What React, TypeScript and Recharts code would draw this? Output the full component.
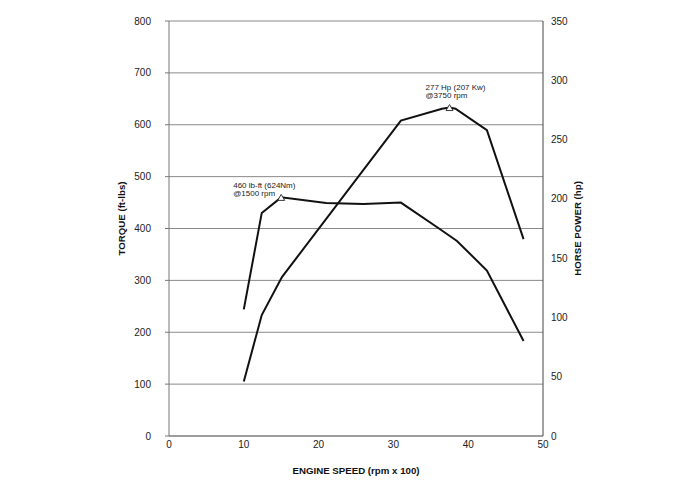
import { LineChart, Line, XAxis, YAxis, CartesianGrid, ReferenceDot, Label } from 'recharts'

const torqueRpm = [10, 12.4, 15, 21, 26, 31, 36, 38.5, 42.5, 47.4]
const torqueVals = [244, 430, 460, 449, 447, 450, 401, 376, 319, 183]
const hpRpm = [10, 12.4, 15.1, 31, 36.5, 37.5, 38.3, 42.5, 47.4]
const hpVals = [46, 102, 134, 266, 276, 277, 276, 258, 166]

const xTicks = [0, 10, 20, 30, 40, 50]
const torqueTicks = [0, 100, 200, 300, 400, 500, 600, 700, 800]
const hpTicks = [0, 50, 100, 150, 200, 250, 300, 350]

const torquePeak = { rpm: 15, value: 460, lines: ['460 lb-ft (624Nm)', '@1500 rpm'] }
const hpPeak = { rpm: 37.5, value: 277, lines: ['277 Hp (207 Kw)', '@3750 rpm'] }

const torqueData = torqueRpm.map((rpm, i) => ({ rpm, torque: torqueVals[i] }))
const hpData = hpRpm.map((rpm, i) => ({ rpm, hp: hpVals[i] }))

const FONT = '"Liberation Sans", Arial, sans-serif'
const tick = { fontSize: 10, fill: '#222', fontFamily: FONT }

function peakShape(lines: string[], dx: number, dy: number) {
  return (p: any) => {
    const { cx, cy } = p
    return (
      <g>
        <polygon
          points={`${cx - 3.5},${cy + 3} ${cx + 3.5},${cy + 3} ${cx},${cy - 3}`}
          fill="#fff" stroke="#222" strokeWidth={0.9}
        />
        {lines.map((t, i) => (
          <text key={i} x={cx + dx} y={cy + dy + i * 8.5} fontSize={8} fill="#222" fontFamily={FONT}>{t}</text>
        ))}
      </g>
    )
  }
}

const axisTitle = (text: string, dx: number, dy: number) => (p: any) => {
  const vb = p.viewBox
  const x = vb.x + dx
  const y = vb.y + vb.height / 2 + dy
  return (
    <text x={x} y={y} transform={`rotate(-90 ${x} ${y})`} textAnchor="middle" dominantBaseline="central"
      fontSize={9.7} fontWeight={700} fill="#111" fontFamily={FONT}>{text}</text>
  )
}

export default function App() {
  return (
    <div style={{ width: 700, height: 492, fontFamily: FONT }}>
      <LineChart width={700} height={492} margin={{ top: 13, right: 105, left: 101, bottom: 34 }}>
        <CartesianGrid yAxisId="torque" vertical={false} stroke="#8a8a8a" strokeWidth={1} />
        <XAxis
          dataKey="rpm" type="number" domain={[0, 50]} ticks={xTicks} height={30}
          tick={tick} tickLine={false} tickSize={0} tickMargin={5}
          axisLine={{ stroke: '#777' }} allowDuplicatedCategory={false}
        >
          <Label value="ENGINE SPEED (rpm x 100)" position="bottom" offset={1}
            style={{ fontSize: 9.7, fontWeight: 700, fill: '#111', fontFamily: FONT }} />
        </XAxis>
        <YAxis
          yAxisId="torque" domain={[0, 800]} ticks={torqueTicks} width={60}
          tick={tick} tickSize={4} tickMargin={14}
          tickLine={{ stroke: '#777' }} axisLine={{ stroke: '#777' }}
          label={{ content: axisTitle('TORQUE (ft-lbs)', 12, -10) }}
        />
        <YAxis
          yAxisId="hp" orientation="right" domain={[0, 350]} ticks={hpTicks} width={60}
          tick={{ ...tick, textAnchor: 'start' }} tickLine={false} tickSize={0} tickMargin={8}
          axisLine={{ stroke: '#444' }}
          label={{ content: axisTitle('HORSE POWER (hp)', 34, 0) }}
        />
        <Line
          yAxisId="torque" data={torqueData} dataKey="torque" type="linear"
          stroke="#111" strokeWidth={2} dot={false} isAnimationActive={false}
        />
        <Line
          yAxisId="hp" data={hpData} dataKey="hp" type="linear"
          stroke="#111" strokeWidth={2} dot={false} isAnimationActive={false}
        />
        <ReferenceDot yAxisId="torque" x={torquePeak.rpm} y={torquePeak.value}
          shape={peakShape(torquePeak.lines, -48, -9.5)} />
        <ReferenceDot yAxisId="hp" x={hpPeak.rpm} y={hpPeak.value}
          shape={peakShape(hpPeak.lines, -24, -18)} />
      </LineChart>
    </div>
  )
}
